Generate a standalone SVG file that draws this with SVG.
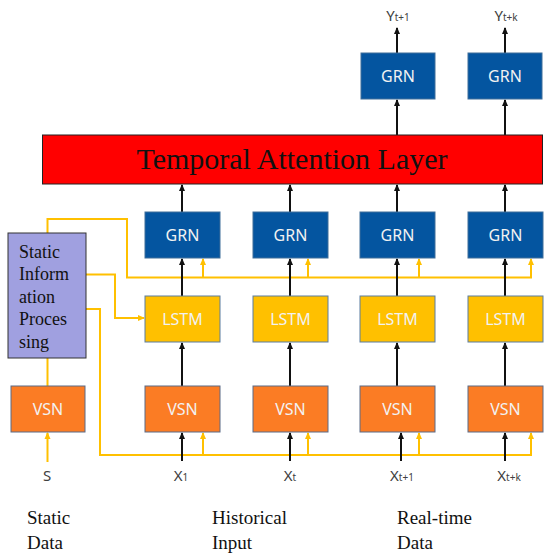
<svg xmlns="http://www.w3.org/2000/svg" width="550" height="559" viewBox="0 0 550 559">
<style>
.grn{fill:#0455A0;stroke:#3E6E9A;stroke-width:1}
.lstm{fill:#FFC000;stroke:#5B7DA0;stroke-width:1}
.vsn{fill:#FB7C24;stroke:#5B6A86;stroke-width:1}
.bt{font-family:"Noto Sans","Open Sans",sans-serif;font-size:16px;fill:#F2F2F2;text-anchor:middle}
.blk{stroke:#111;stroke-width:2;fill:none;marker-end:url(#ab)}
.yl{stroke:#FFC000;stroke-width:2;fill:none}
.yla{stroke:#FFC000;stroke-width:2;fill:none;marker-end:url(#ay)}
.lab{font-family:"Noto Sans","Open Sans",sans-serif;font-size:15px;fill:#404040;text-anchor:middle}
.ser{font-family:"Liberation Serif","Times New Roman",serif;font-size:18px;fill:#111}
.ser2{font-family:"Liberation Serif","Times New Roman",serif;font-size:19px;fill:#111}
</style>
<defs>
<marker id="ab" markerWidth="8" markerHeight="8" refX="6" refY="4" orient="auto" markerUnits="userSpaceOnUse"><path d="M0,1 L7,4 L0,7 z" fill="#111"/></marker>
<marker id="ay" markerWidth="8" markerHeight="8" refX="6" refY="4" orient="auto" markerUnits="userSpaceOnUse"><path d="M0,1 L7,4 L0,7 z" fill="#FFC000"/></marker>
</defs>
<rect width="550" height="559" fill="#fff"/>

<g id="connectors">
<path class="yla" d="M47.5,233 L47.5,219 L127,219 L127,277.5 L531,277.5 L531,259"/>
<path class="yla" d="M203,277.5 L203,259"/>
<path class="yla" d="M308,277.5 L308,259"/>
<path class="yla" d="M419,277.5 L419,259"/>
<path class="yla" d="M86,274.5 L115,274.5 L115,318 L144,318"/>
<path class="yla" d="M86,309 L100,309 L100,455 L531,455 L531,433"/>
<path class="yla" d="M203,455 L203,433"/>
<path class="yla" d="M308,455 L308,433"/>
<path class="yla" d="M419,455 L419,433"/>
<path class="yla" d="M47.5,462 L47.5,433"/>
<path class="yl" d="M47.5,386 L47.5,358"/>
<path class="blk" d="M182,461 L182,433"/>
<path class="blk" d="M290,461 L290,433"/>
<path class="blk" d="M401,461 L401,433"/>
<path class="blk" d="M505,461 L505,433"/>
<path class="blk" d="M182,386 L182,343"/>
<path class="blk" d="M290,386 L290,343"/>
<path class="blk" d="M397,386 L397,343"/>
<path class="blk" d="M505,386 L505,343"/>
<path class="blk" d="M182,296 L182,259"/>
<path class="blk" d="M290,296 L290,259"/>
<path class="blk" d="M397,296 L397,259"/>
<path class="blk" d="M505,296 L505,259"/>
<path class="blk" d="M182,212 L182,185"/>
<path class="blk" d="M290,212 L290,185"/>
<path class="blk" d="M397,212 L397,185"/>
<path class="blk" d="M505,212 L505,185"/>
<path class="blk" d="M397,135 L397,100"/>
<path class="blk" d="M505,135 L505,100"/>
<path class="blk" d="M397,53 L397,28"/>
<path class="blk" d="M505,53 L505,28"/>
</g>

<g id="attention">
<rect x="42.5" y="135" width="500" height="49" fill="#FF0000" stroke="#222" stroke-width="1"/>
<text x="292" y="169" font-family="Liberation Serif,'Times New Roman',serif" font-size="30" fill="#111" text-anchor="middle">Temporal Attention Layer</text>
</g>

<g id="static-info">
<rect x="8" y="233" width="78" height="125" fill="#A0A0E0" stroke="#333" stroke-width="1"/>
<text class="ser"><tspan x="19" y="258">Static</tspan><tspan x="19" y="280">Inform</tspan><tspan x="19" y="303">ation</tspan><tspan x="19" y="325">Proces</tspan><tspan x="19" y="348">sing</tspan></text>
</g>

<g id="vsn-static"><rect class="vsn" x="11" y="386" width="74" height="46"/><text class="bt" x="48" y="415">VSN</text></g>

<g id="vsn1"><rect class="vsn" x="145" y="386" width="75" height="46"/><text class="bt" x="182.5" y="415">VSN</text></g>
<g id="vsn2"><rect class="vsn" x="253" y="386" width="75" height="46"/><text class="bt" x="290.5" y="415">VSN</text></g>
<g id="vsn3"><rect class="vsn" x="360" y="386" width="75" height="46"/><text class="bt" x="397.5" y="415">VSN</text></g>
<g id="vsn4"><rect class="vsn" x="468" y="386" width="75" height="46"/><text class="bt" x="505.5" y="415">VSN</text></g>

<g id="lstm1"><rect class="lstm" x="145" y="296" width="75" height="46"/><text class="bt" x="182.5" y="325">LSTM</text></g>
<g id="lstm2"><rect class="lstm" x="253" y="296" width="75" height="46"/><text class="bt" x="290.5" y="325">LSTM</text></g>
<g id="lstm3"><rect class="lstm" x="360" y="296" width="75" height="46"/><text class="bt" x="397.5" y="325">LSTM</text></g>
<g id="lstm4"><rect class="lstm" x="468" y="296" width="75" height="46"/><text class="bt" x="505.5" y="325">LSTM</text></g>

<g id="grn1"><rect class="grn" x="145" y="212" width="75" height="46"/><text class="bt" x="182.5" y="241">GRN</text></g>
<g id="grn2"><rect class="grn" x="253" y="212" width="75" height="46"/><text class="bt" x="290.5" y="241">GRN</text></g>
<g id="grn3"><rect class="grn" x="360" y="212" width="75" height="46"/><text class="bt" x="397.5" y="241">GRN</text></g>
<g id="grn4"><rect class="grn" x="468" y="212" width="75" height="46"/><text class="bt" x="505.5" y="241">GRN</text></g>

<g id="grn-out1"><rect class="grn" x="361" y="53" width="74" height="46"/><text class="bt" x="398" y="82">GRN</text></g>
<g id="grn-out2"><rect class="grn" x="468" y="53" width="74" height="46"/><text class="bt" x="505" y="82">GRN</text></g>

<g id="labels">
<text class="lab" x="398" y="21">Y<tspan font-size="10">t+1</tspan></text>
<text class="lab" x="506" y="21">Y<tspan font-size="10">t+k</tspan></text>
<text class="lab" x="47" y="481">S</text>
<text class="lab" x="181" y="481">X<tspan font-size="10">1</tspan></text>
<text class="lab" x="290" y="481">X<tspan font-size="10">t</tspan></text>
<text class="lab" x="402" y="481">X<tspan font-size="10">t+1</tspan></text>
<text class="lab" x="509" y="481">X<tspan font-size="10">t+k</tspan></text>
<text class="ser2"><tspan x="27" y="524">Static</tspan><tspan x="27" y="549">Data</tspan></text>
<text class="ser2"><tspan x="212" y="524">Historical</tspan><tspan x="212" y="549">Input</tspan></text>
<text class="ser2"><tspan x="397" y="524">Real-time</tspan><tspan x="397" y="549">Data</tspan></text>
</g>
</svg>
